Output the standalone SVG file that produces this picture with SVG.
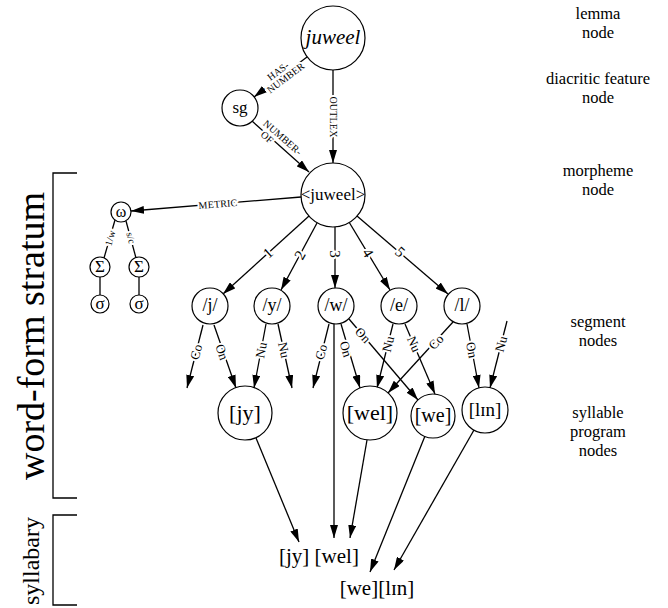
<svg xmlns="http://www.w3.org/2000/svg" width="668" height="608" viewBox="0 0 668 608">
  <defs>
    <marker id="arrow" markerUnits="userSpaceOnUse" markerWidth="13" markerHeight="8" refX="13" refY="4" orient="auto">
      <path d="M0,0 L13,4 L0,8 z" fill="#000"/>
    </marker>
    <style>
      text { font-family: "Liberation Serif", "Times New Roman", serif; fill: #000; }
      .node circle { fill: #fff; stroke: #000; stroke-width: 1.2; }
      .node text { text-anchor: middle; dominant-baseline: central; }
      .edges line, .edges path { stroke: #000; stroke-width: 1.3; fill: none; }
      .arr { marker-end: url(#arrow); }
      .lbl { text-anchor: middle; dominant-baseline: central; font-size: 13px; paint-order: stroke; stroke: #fff; stroke-width: 4px; stroke-linejoin: round; }
      .small { font-size: 10px; letter-spacing: 0.2px; }
      .num { font-size: 15px; }
      .side { text-anchor: middle; font-size: 16.5px; }
      .stratum { text-anchor: middle; }
      .bracket { stroke: #000; stroke-width: 1.3; fill: none; }
    </style>
  </defs>

  <rect width="668" height="608" fill="#fff"/>

  <!-- stratum brackets -->
  <path class="bracket" d="M77,173 H53 V498 H77"/>
  <path class="bracket" d="M77,515 H53 V605 H77"/>
  <text class="stratum" font-size="38" transform="translate(44,336) rotate(-90)">word-form stratum</text>
  <text class="stratum" font-size="24" transform="translate(39,561) rotate(-90)">syllabary</text>

  <!-- level captions -->
  <g id="captions">
    <text class="side" x="598" y="19">lemma</text>
    <text class="side" x="598" y="38">node</text>
    <text class="side" x="598" y="84">diacritic feature</text>
    <text class="side" x="598" y="103">node</text>
    <text class="side" x="598" y="176">morpheme</text>
    <text class="side" x="598" y="195">node</text>
    <text class="side" x="598" y="327">segment</text>
    <text class="side" x="598" y="346">nodes</text>
    <text class="side" x="598" y="418">syllable</text>
    <text class="side" x="598" y="437">program</text>
    <text class="side" x="598" y="456">nodes</text>
  </g>

  <!-- connectors -->
  <g class="edges">
    <!-- lemma level -->
    <line class="arr" x1="307" y1="57" x2="254" y2="97"/>
    <line class="arr" x1="333" y1="70" x2="333" y2="163"/>
    <line class="arr" x1="252" y1="121" x2="309" y2="172"/>
    <!-- metrical frame -->
    <line class="arr" x1="301" y1="197" x2="131" y2="211"/>
    <line x1="115" y1="220" x2="104" y2="258"/>
    <line x1="126" y1="221" x2="136" y2="258"/>
    <line x1="100" y1="277" x2="100" y2="295"/>
    <line x1="139" y1="277" x2="139" y2="295"/>
    <!-- morpheme to segments -->
    <line class="arr" x1="309" y1="216" x2="223" y2="294"/>
    <line class="arr" x1="317" y1="223" x2="281" y2="290"/>
    <line class="arr" x1="335" y1="227" x2="335" y2="288"/>
    <line class="arr" x1="349" y1="222" x2="390" y2="290"/>
    <line class="arr" x1="357" y1="216" x2="448" y2="294"/>
    <!-- segments to syllable programs -->
    <line class="arr" x1="203" y1="325" x2="187" y2="388"/>
    <line class="arr" x1="214" y1="325" x2="236" y2="388"/>
    <line class="arr" x1="266" y1="324" x2="254" y2="388"/>
    <line class="arr" x1="278" y1="324" x2="292" y2="388"/>
    <line class="arr" x1="329" y1="324" x2="313" y2="388"/>
    <line class="arr" x1="334" y1="324" x2="334" y2="538"/>
    <line class="arr" x1="341" y1="324" x2="360" y2="388"/>
    <line class="arr" x1="349" y1="319" x2="418" y2="400"/>
    <line class="arr" x1="393" y1="324" x2="377" y2="388"/>
    <line class="arr" x1="405" y1="324" x2="435" y2="394"/>
    <line class="arr" x1="453" y1="322" x2="388" y2="393"/>
    <line class="arr" x1="467" y1="324" x2="479" y2="388"/>
    <line class="arr" x1="507" y1="321" x2="490" y2="388"/>
    <!-- syllable programs to syllabary -->
    <line class="arr" x1="256" y1="438" x2="299" y2="542"/>
    <line class="arr" x1="367" y1="440" x2="350" y2="538"/>
    <line class="arr" x1="425" y1="436" x2="370" y2="572"/>
    <line class="arr" x1="474" y1="430" x2="394" y2="570"/>
  </g>

  <!-- connector labels -->
  <g id="edge-labels">
    <g transform="translate(281,75) rotate(-37)">
      <text class="lbl small" x="0" y="-5">HAS-</text>
      <text class="lbl small" x="2" y="5">NUMBER</text>
    </g>
    <text class="lbl small" transform="translate(333,117) rotate(90)">OUTLEX</text>
    <g transform="translate(278,140) rotate(41)">
      <text class="lbl small" x="2" y="-5">NUMBER-</text>
      <text class="lbl small" x="-10" y="5">OF</text>
    </g>
    <text class="lbl small" transform="translate(218,204) rotate(-4.7)">METRIC</text>
    <text class="lbl small" transform="translate(110,238) rotate(-74)">1/w</text>
    <text class="lbl small" transform="translate(131,238) rotate(76)">s/c</text>

    <text class="lbl num" transform="translate(268,253) rotate(-42)">1</text>
    <text class="lbl num" transform="translate(300,255) rotate(-61)">2</text>
    <text class="lbl num" transform="translate(335,254) rotate(90)">3</text>
    <text class="lbl num" transform="translate(368,253) rotate(59)">4</text>
    <text class="lbl num" transform="translate(400,252) rotate(41)">5</text>

    <text class="lbl" transform="translate(196,352) rotate(-76)">Co</text>
    <text class="lbl" transform="translate(222,352) rotate(71)">On</text>
    <text class="lbl" transform="translate(261,350) rotate(-79)">Nu</text>
    <text class="lbl" transform="translate(284,350) rotate(78)">Nu</text>
    <text class="lbl" transform="translate(321,352) rotate(-76)">Co</text>
    <text class="lbl" transform="translate(346,349) rotate(73)">On</text>
    <text class="lbl" transform="translate(363,335) rotate(47)">On</text>
    <text class="lbl" transform="translate(388,344) rotate(-76)">Nu</text>
    <text class="lbl" transform="translate(414,344) rotate(67)">Nu</text>
    <text class="lbl" transform="translate(436,342) rotate(-47)">Co</text>
    <text class="lbl" transform="translate(472,350) rotate(79)">On</text>
    <text class="lbl" transform="translate(501,344) rotate(-75)">Nu</text>
  </g>

  <!-- lemma and morpheme level -->
  <g id="lemma" class="node"><circle cx="333" cy="38" r="32"/><text x="333" y="37" font-size="21" font-style="italic">juweel</text></g>
  <g id="sg" class="node"><circle cx="240" cy="108" r="18"/><text x="240" y="107" font-size="17">sg</text></g>
  <g id="morpheme" class="node"><circle cx="333" cy="195" r="32"/><text x="333" y="194" font-size="17">&lt;juweel&gt;</text></g>

  <!-- metrical frame -->
  <g id="omega" class="node"><circle cx="121" cy="212" r="10"/><text x="121" y="211" font-size="16">ω</text></g>
  <g id="foot-1" class="node"><circle cx="100" cy="267" r="10"/><text x="100" y="266" font-size="17">Σ</text></g>
  <g id="foot-2" class="node"><circle cx="139" cy="267" r="10"/><text x="139" y="266" font-size="17">Σ</text></g>
  <g id="syl-1" class="node"><circle cx="100" cy="304" r="9"/><text x="100" y="303" font-size="17">σ</text></g>
  <g id="syl-2" class="node"><circle cx="139" cy="304" r="9"/><text x="139" y="303" font-size="17">σ</text></g>

  <!-- segment nodes -->
  <g id="seg-j" class="node"><circle cx="210" cy="306" r="18"/><text x="210" y="305" font-size="18">/j/</text></g>
  <g id="seg-y" class="node"><circle cx="272" cy="306" r="18"/><text x="272" y="305" font-size="18">/y/</text></g>
  <g id="seg-w" class="node"><circle cx="336" cy="306" r="18"/><text x="336" y="305" font-size="18">/w/</text></g>
  <g id="seg-e" class="node"><circle cx="399" cy="306" r="18"/><text x="399" y="305" font-size="18">/e/</text></g>
  <g id="seg-l" class="node"><circle cx="462" cy="306" r="18"/><text x="462" y="305" font-size="18">/l/</text></g>

  <!-- syllable program nodes -->
  <g id="prog-jy" class="node"><circle cx="245" cy="413" r="27"/><text x="245" y="412" font-size="22">[jy]</text></g>
  <g id="prog-wel" class="node"><circle cx="370" cy="413" r="27"/><text x="370" y="412" font-size="22">[wel]</text></g>
  <g id="prog-we" class="node"><circle cx="433" cy="416" r="22"/><text x="433" y="415" font-size="20">[we]</text></g>
  <g id="prog-lin" class="node"><circle cx="485" cy="410" r="23"/><text x="485" y="409" font-size="19">[lɪn]</text></g>

  <!-- syllabary entries -->
  <g id="syllabary-1"><text x="319" y="563" font-size="21" text-anchor="middle">[jy] [wel]</text></g>
  <g id="syllabary-2"><text x="377" y="595" font-size="21" text-anchor="middle">[we][lɪn]</text></g>
</svg>
